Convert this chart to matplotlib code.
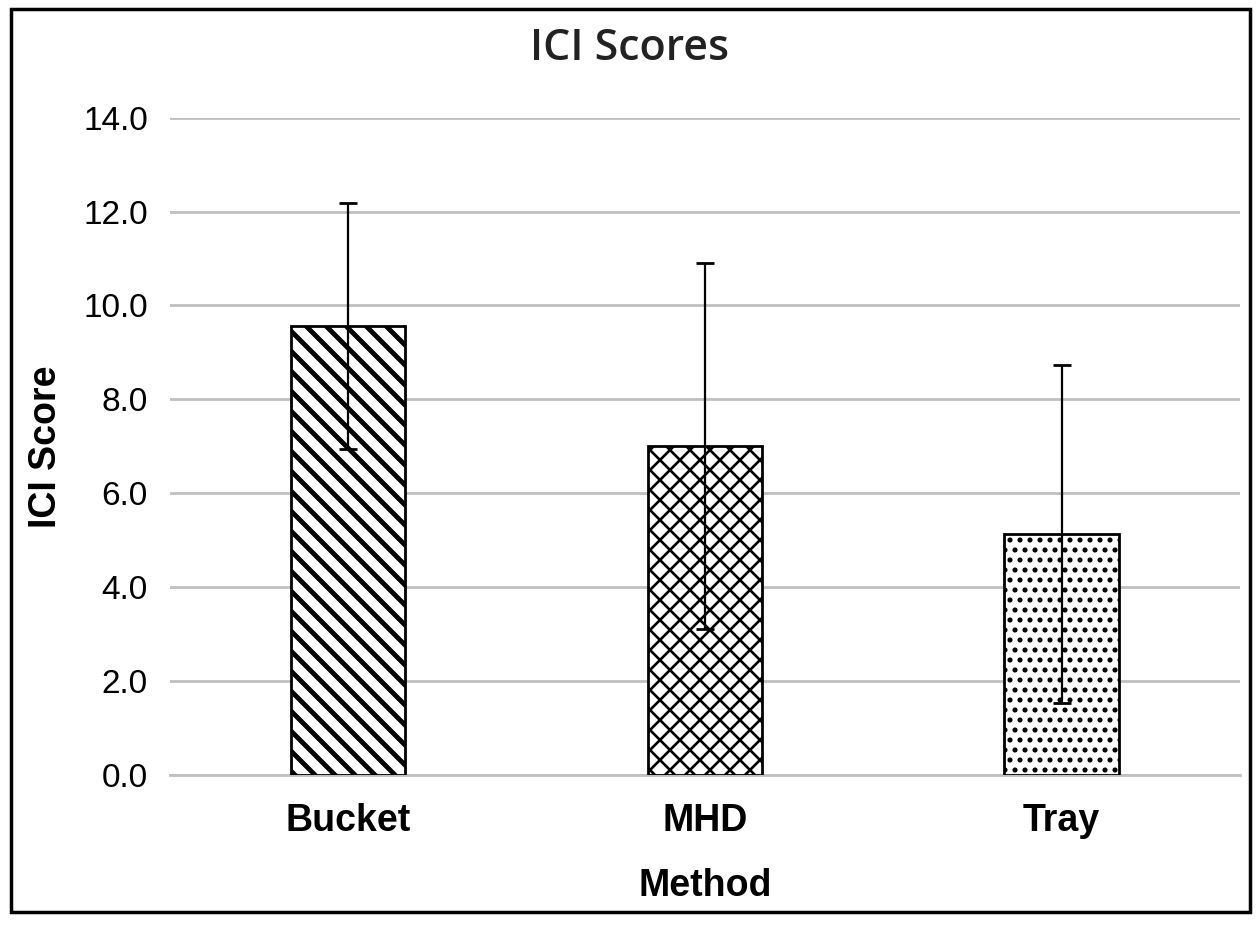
import matplotlib
matplotlib.use("Agg")
import matplotlib.pyplot as plt
from matplotlib.patches import Rectangle

methods = ["Bucket", "MHD", "Tray"]
scores = [9.57, 7.0, 5.13]
errors = [2.62, 3.9, 3.6]
hatches = ["\\\\", "xx", ".."]

# drawn at 120 dpi so the hatch spacing comes out like the original;
# k turns sizes picked for 100 dpi into points at this dpi
DPI = 120
k = 100 / DPI
hatch_widths = [3.5 * k, 1.9 * k, 2.2 * k]

plt.rcParams['font.family'] = ['Liberation Sans', 'DejaVu Sans']

fig = plt.figure(figsize=(1260 / DPI, 926 / DPI), dpi=DPI)
ax = fig.add_axes([0.135, 0.163, 0.849, 0.71])

x = list(range(len(methods)))
for i in x:
    plt.rcParams['hatch.linewidth'] = hatch_widths[i]
    bars = ax.bar(i, scores[i], width=0.32, color="white", edgecolor="black",
                  linewidth=2 * k, hatch=hatches[i], zorder=3)
    for b in bars:
        if hasattr(b, "set_hatch_linewidth"):
            b.set_hatch_linewidth(hatch_widths[i])
ax.errorbar(x, scores, yerr=errors, fmt="none", ecolor="black",
            elinewidth=1.6 * k, capsize=6.5 * k, capthick=2 * k, zorder=4)

ax.set_xlim(-0.5, 2.5)
ax.set_ylim(0, 14)
yt = [0, 2, 4, 6, 8, 10, 12, 14]
ax.set_yticks(yt)
ax.set_yticklabels([f"{v:.1f}" for v in yt], fontsize=24 * k)
ax.set_xticks(x)
ax.set_xticklabels(methods, fontsize=27 * k, fontweight="bold")
ax.tick_params(axis="both", length=0)
ax.tick_params(axis="y", pad=16 * k)
ax.tick_params(axis="x", pad=20 * k)
ax.yaxis.grid(True, color="#c0c0c0", linewidth=2 * k, zorder=0)
ax.set_axisbelow(True)
for s in ["top", "right", "left"]:
    ax.spines[s].set_visible(False)
ax.spines["bottom"].set_color("#c0c0c0")
ax.spines["bottom"].set_linewidth(2 * k)

ax.set_ylabel("ICI Score", fontsize=27 * k, fontweight="bold", labelpad=14 * k)
ax.set_xlabel("Method", fontsize=27 * k, fontweight="bold", labelpad=21 * k)
fig.text(0.5, 0.935, "ICI Scores", fontsize=31 * k, color="#222222", ha="center",
         va="baseline", fontweight="semibold", family=["Open Sans", "DejaVu Sans"])

fig.patches.append(Rectangle((0.009, 0.015), 0.983, 0.975, transform=fig.transFigure,
                             fill=False, edgecolor="black", linewidth=2.5 * k))

fig.savefig("out.png", dpi=DPI)
